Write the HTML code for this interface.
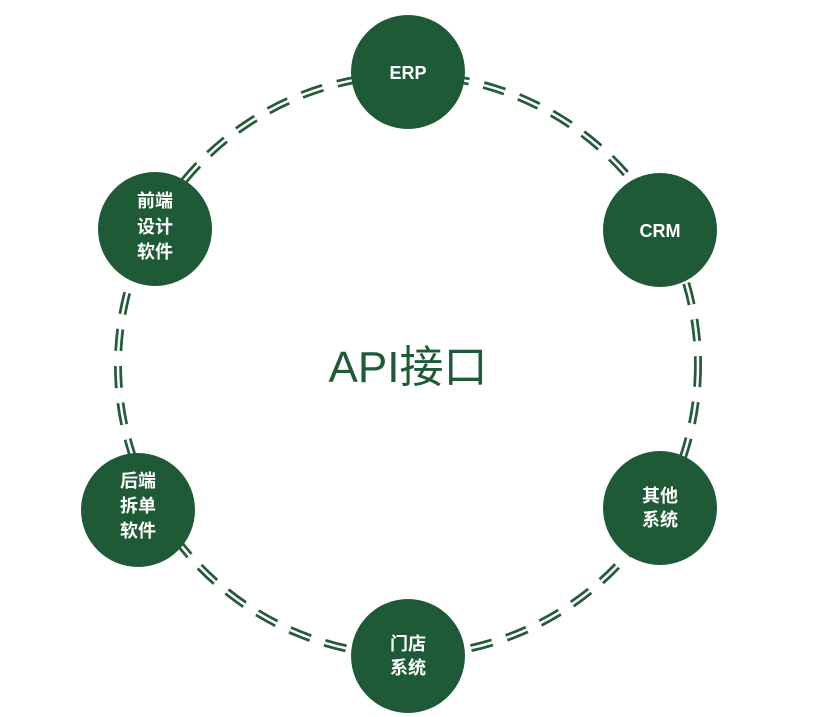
<!DOCTYPE html>
<html><head><meta charset="utf-8"><style>
html,body{margin:0;padding:0;background:#fff;}
svg{display:block;}
text{font-family:"Liberation Sans","Noto Sans CJK SC",sans-serif;}
</style></head><body>
<svg width="820" height="717" viewBox="0 0 820 717">
<rect width="820" height="717" fill="#fff"/>
<circle cx="408" cy="365" r="290" fill="none" stroke="#245c3a" stroke-width="8" stroke-dasharray="22 15"/>
<circle cx="408" cy="365" r="290" fill="none" stroke="#fff" stroke-width="2.5" stroke-dasharray="22 15"/>
<g fill="#1f5a36">
<circle cx="408" cy="72" r="57"/>
<circle cx="660" cy="230" r="57"/>
<circle cx="660" cy="508" r="57"/>
<circle cx="408" cy="656" r="57"/>
<circle cx="138" cy="510" r="57"/>
<circle cx="155" cy="229" r="57"/>
</g>
<g fill="#fff" font-weight="bold" font-size="18" text-anchor="middle">
<text x="408" y="79">ERP</text>
<text x="660" y="237">CRM</text>
<text x="660" y="502">其他</text>
<text x="660" y="526">系统</text>
<text x="408" y="650">门店</text>
<text x="408" y="674">系统</text>
<text x="138" y="487">后端</text>
<text x="138" y="512">拆单</text>
<text x="138" y="537">软件</text>
<text x="155" y="207">前端</text>
<text x="155" y="233">设计</text>
<text x="155" y="258">软件</text>
</g>
<text x="408" y="382" text-anchor="middle" font-size="44" fill="#1f5a36">API接口</text>
</svg>
</body></html>
